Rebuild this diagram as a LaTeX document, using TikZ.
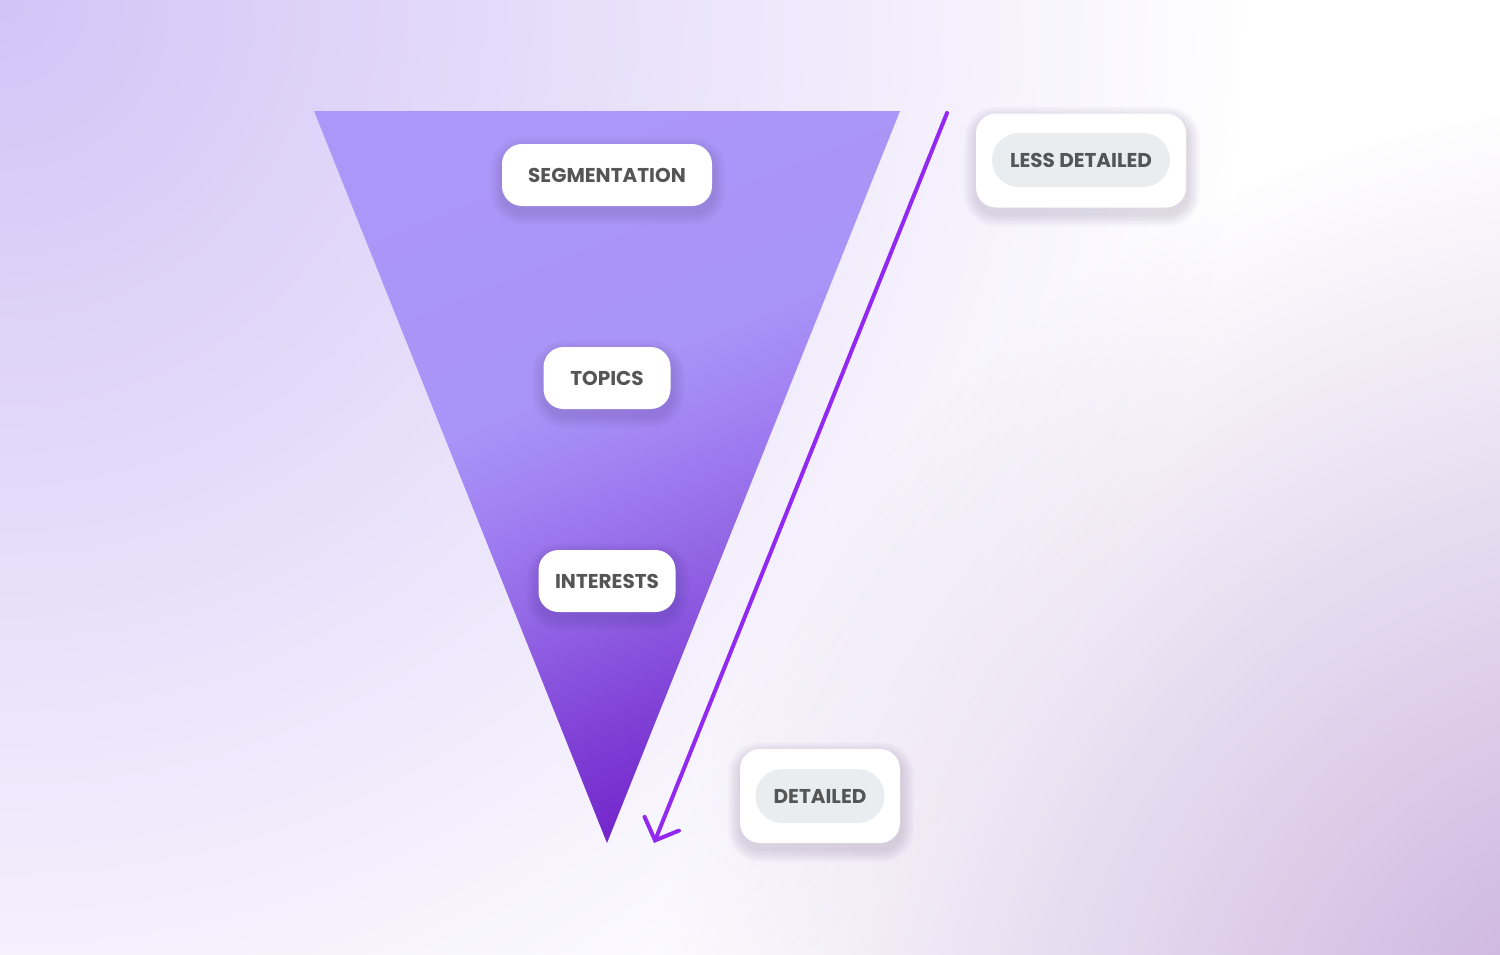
\documentclass[tikz,border=0pt]{standalone}
\usepackage{fontspec}
\setmainfont{Poppins}
\usetikzlibrary{arrows.meta,fadings}
\definecolor{lavA}{HTML}{D3C4F7}
\definecolor{purpC}{HTML}{C4A8DA}
\definecolor{fA}{HTML}{7224CA}
\definecolor{fB}{HTML}{8040D6}
\definecolor{fC}{HTML}{9468E6}
\definecolor{fD}{HTML}{A080F2}
\definecolor{fE}{HTML}{A994F7}
\definecolor{fF}{HTML}{AB97F8}
\definecolor{arrowc}{HTML}{9329F0}
\definecolor{pillc}{HTML}{E9EDF0}
\definecolor{txt}{HTML}{555555}
\definecolor{shadc}{HTML}{302060}
\pgfdeclarelayer{back}
\pgfdeclarelayer{shad}
\pgfsetlayers{back,shad,main}
\pgfdeclareverticalshading{funnel}{100bp}{color(0bp)=(fA); color(25bp)=(fA); color(33bp)=(fB); color(43bp)=(fC); color(50bp)=(fD); color(57bp)=(fE); color(75bp)=(fF); color(100bp)=(fF)}
\tikzfading[name=radfade, inner color=transparent!0, outer color=transparent!100]
\newcommand\mysoftshadow[1]{%
  \begin{pgfonlayer}{shad}
  \foreach \i in {1,...,9}{%
    \fill[shadc, opacity=0.017, rounded corners=10pt+\i*0.7pt]
      ([xshift=0.5pt-\i*0.7pt, yshift=-3pt-\i*0.7pt]#1.south west) rectangle
      ([xshift=0.5pt+\i*0.7pt, yshift=-3pt+\i*0.7pt]#1.north east);
  }
  \end{pgfonlayer}}
\tikzset{
  lbl/.style={rectangle, rounded corners=10pt, fill=white, minimum height=31pt,
    font=\bfseries\fontsize{10}{12}\selectfont, text=txt},
  outerbox/.style={rectangle, rounded corners=10pt, fill=white, minimum height=47pt},
  pill/.style={rectangle, rounded corners=13.5pt, fill=pillc, minimum height=27pt,
    font=\bfseries\fontsize{10}{12}\selectfont, text=txt},
  arr/.style={draw=arrowc, line width=2pt, line cap=round,
    -{Straight Barb[length=9pt, width=18.5pt, line cap=round]}}
}
\begin{document}
\begin{tikzpicture}[x=0.5pt,y=-0.5pt]
\useasboundingbox (0,0) rectangle (1500,954);
\begin{pgfonlayer}{back}
\begin{scope}
\clip (0,0) rectangle (1500,954);
\fill[white] (0,0) rectangle (1500,954);
\fill[lavA, path fading=radfade] (0,0) circle (1250);
\fill[purpC, path fading=radfade] (1650,1100) circle (1000);
\end{scope}
% funnel
\coordinate (tl) at (314,111);
\coordinate (tr) at (900,111);
\coordinate (tb) at (607,843);
\shade[shading=funnel, shading angle=22] (tl) -- (tr) -- (tb) -- cycle;
\end{pgfonlayer}
% labels
\node[lbl, minimum width=105pt] (seg) at (607,175) {SEGMENTATION};
\node[lbl, minimum width=63.5pt] (top) at (607,378) {TOPICS};
\node[lbl, minimum width=68.5pt] (int) at (607,581) {INTERESTS};
\mysoftshadow{seg}
\mysoftshadow{top}
\mysoftshadow{int}
% arrow
\coordinate (as) at (947,113);
\coordinate (ae) at (654,843);
\draw[arr] (as) -- (ae);
% right boxes
\node[outerbox, minimum width=105pt] (lo) at (1081,160.5) {};
\node[pill, minimum width=89pt] (ld) at (1081,160) {LESS DETAILED};
\node[outerbox, minimum width=80pt] (do) at (820,796) {};
\node[pill, minimum width=64.5pt] (dd) at (820,796) {DETAILED};
\mysoftshadow{lo}
\mysoftshadow{do}
\end{tikzpicture}
\end{document}
